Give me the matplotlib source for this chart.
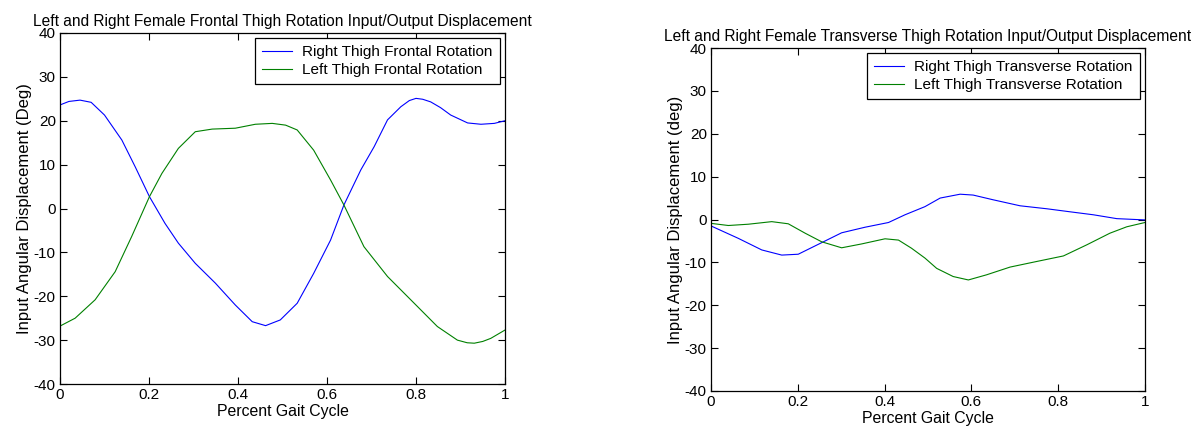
import matplotlib
matplotlib.use("Agg")
import matplotlib.pyplot as plt

plt.rcParams['font.family'] = ['Liberation Sans', 'DejaVu Sans']
plt.rcParams['font.size'] = 11
plt.rcParams['axes.unicode_minus'] = False

# Frontal thigh rotation (left panel)
frontal_right_x = [0.0, 0.02, 0.045, 0.07, 0.10, 0.139, 0.169, 0.201, 0.236, 0.266, 0.304, 0.349,
                   0.394, 0.432, 0.462, 0.495, 0.533, 0.570, 0.608, 0.638, 0.676, 0.706, 0.736,
                   0.766, 0.785, 0.80, 0.815, 0.833, 0.855, 0.878, 0.916, 0.946, 0.976, 1.0]
frontal_right_y = [23.6, 24.4, 24.7, 24.2, 21.3, 15.6, 9.5, 2.7, -3.4, -7.9, -12.5, -17.0,
                   -22.0, -25.8, -26.7, -25.4, -21.6, -14.8, -7.2, 0.8, 8.8, 14.1, 20.2,
                   23.2, 24.6, 25.1, 24.9, 24.3, 23.0, 21.3, 19.5, 19.2, 19.4, 20.0]

frontal_left_x = [0.0, 0.034, 0.079, 0.124, 0.161, 0.201, 0.229, 0.266, 0.304, 0.342, 0.394,
                  0.439, 0.477, 0.507, 0.533, 0.570, 0.608, 0.638, 0.683, 0.736, 0.796,
                  0.848, 0.893, 0.915, 0.931, 0.950, 0.968, 1.0]
frontal_left_y = [-26.8, -25.0, -20.8, -14.4, -6.4, 2.7, 8.0, 13.7, 17.5, 18.1, 18.3,
                  19.2, 19.4, 19.0, 17.9, 13.3, 6.5, 0.8, -8.7, -15.5, -21.6,
                  -26.9, -30.0, -30.6, -30.7, -30.3, -29.6, -27.7]

# Transverse thigh rotation (right panel)
transverse_right_x = [0.0, 0.063, 0.117, 0.163, 0.201, 0.255, 0.301, 0.355, 0.409, 0.447,
                      0.493, 0.528, 0.574, 0.604, 0.650, 0.712, 0.774, 0.827, 0.881, 0.935, 1.0]
transverse_right_y = [-1.5, -4.4, -7.1, -8.3, -8.1, -5.4, -3.1, -1.8, -0.7, 1.1,
                      3.0, 5.0, 5.9, 5.7, 4.6, 3.2, 2.5, 1.8, 1.1, 0.2, -0.1]

transverse_left_x = [0.0, 0.04, 0.086, 0.14, 0.178, 0.217, 0.255, 0.301, 0.347, 0.401, 0.432,
                     0.462, 0.493, 0.52, 0.558, 0.593, 0.635, 0.689, 0.75, 0.812, 0.866,
                     0.919, 0.958, 1.0]
transverse_left_y = [-0.9, -1.4, -1.1, -0.5, -1.0, -3.2, -5.2, -6.6, -5.7, -4.5, -4.8,
                     -6.7, -9.0, -11.4, -13.3, -14.1, -12.9, -11.1, -9.8, -8.5, -5.9,
                     -3.2, -1.7, -0.7]

W, H = 1203, 434
fig = plt.figure(figsize=(W / 100, H / 100), dpi=100)
ax1 = fig.add_axes([60 / W, (H - 384) / H, 445 / W, 351 / H])
ax2 = fig.add_axes([711 / W, (H - 391) / H, 434 / W, 343 / H])


def style(ax, title, ylabel):
    ax.set_xlim(0, 1)
    ax.set_ylim(-40, 40)
    ax.set_xticks([0, 0.2, 0.4, 0.6, 0.8, 1])
    ax.set_xticklabels(['0', '0.2', '0.4', '0.6', '0.8', '1'])
    ax.set_yticks(range(-40, 41, 10))
    ax.tick_params(direction='in', top=True, right=True, length=5, width=0.8,
                   labelsize=11, pad=3)
    for s in ax.spines.values():
        s.set_linewidth(0.9)
    ax.set_title(title, fontsize=11.2, pad=5)
    ax.set_xlabel('Percent Gait Cycle', fontsize=11.4, labelpad=1)
    ax.set_ylabel(ylabel, fontsize=12, labelpad=1)
    leg = ax.legend(loc='upper right', fancybox=False, framealpha=1, edgecolor='black',
                    fontsize=11, handlelength=2.0, borderpad=0.45, labelspacing=0.25,
                    borderaxespad=0.35, handletextpad=0.65)
    leg.get_frame().set_linewidth(0.9)


ax1.plot(frontal_right_x, frontal_right_y, color='#0000ff', lw=0.8,
         label='Right Thigh Frontal Rotation')
ax1.plot(frontal_left_x, frontal_left_y, color='#008000', lw=0.8,
         label='Left Thigh Frontal Rotation')
style(ax1, 'Left and Right Female Frontal Thigh Rotation Input/Output Displacement',
      'Input Angular Displacement (Deg)')

ax2.plot(transverse_right_x, transverse_right_y, color='#0000ff', lw=0.8,
         label='Right Thigh Transverse Rotation')
ax2.plot(transverse_left_x, transverse_left_y, color='#008000', lw=0.8,
         label='Left Thigh Transverse Rotation')
style(ax2, 'Left and Right Female Transverse Thigh Rotation Input/Output Displacement',
      'Input Angular Displacement (deg)')

fig.savefig('out.png', dpi=100)
